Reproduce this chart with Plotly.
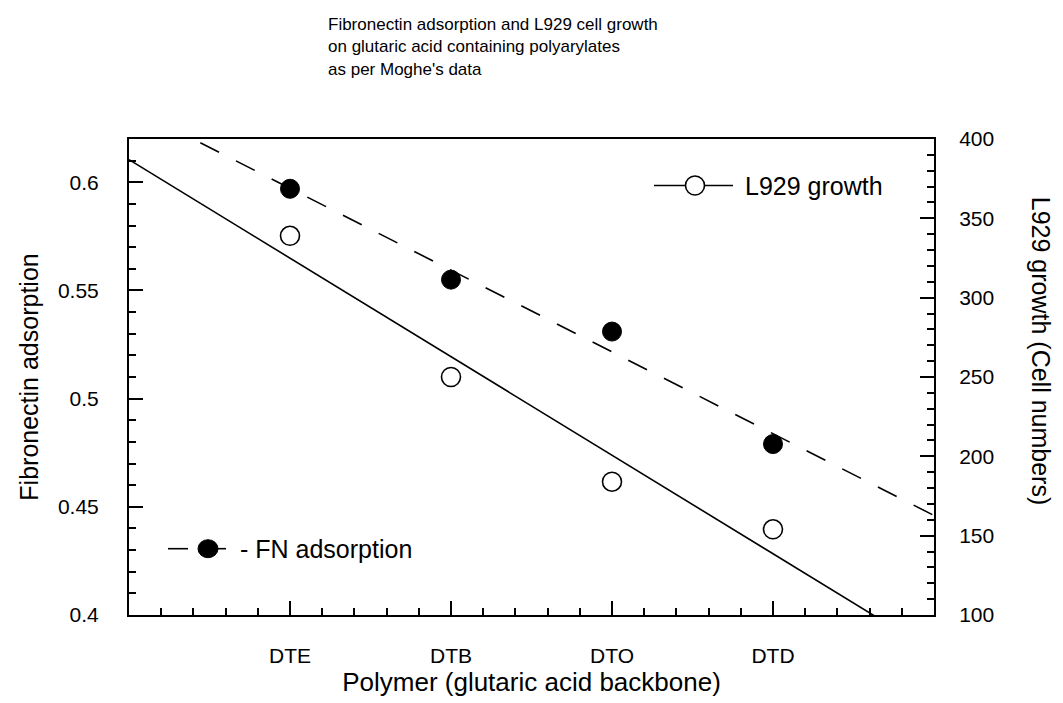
import numpy as np
import plotly.graph_objects as go

# ---------------- data ----------------
categories = ["DTE", "DTB", "DTO", "DTD"]
positions = [1, 2, 3, 4]
fn_adsorption = [0.597, 0.555, 0.531, 0.479]      # left axis
l929_growth = [339, 250, 184, 154]                # right axis (cell numbers)
x_range = [0, 5]
left_range = [0.4, 0.62]
right_range = [100, 400]

title_lines = ["Fibronectin adsorption and L929 cell growth",
               "on glutaric acid containing polyarylates",
               "as per Moghe's data"]

# linear fits (as in original chart)
fn_coef = np.polyfit(positions, fn_adsorption, 1)
l929_coef = np.polyfit(positions, l929_growth, 1)
fit_x = np.linspace(x_range[0], x_range[1], 2)

W, H = 1063, 703
L, R, T, B = 129, 129, 139, 83
PW, PH = W - L - R, H - T - B


def px(x):
    return (x - L) / PW


def py(y):
    return (H - B - y) / PH


FONT = "Arial, Liberation Sans, Helvetica, sans-serif"
BLACK = "#000000"

fig = go.Figure()
fig.add_trace(go.Scatter(x=fit_x, y=np.polyval(fn_coef, fit_x), mode="lines",
                         line=dict(color=BLACK, width=1.6, dash="21px,19px"),
                         showlegend=False, hoverinfo="skip"))
fig.add_trace(go.Scatter(x=fit_x, y=np.polyval(l929_coef, fit_x), mode="lines",
                         line=dict(color=BLACK, width=1.6), yaxis="y2",
                         showlegend=False, hoverinfo="skip"))
fig.add_trace(go.Scatter(x=positions, y=fn_adsorption, mode="markers", name="FN adsorption",
                         marker=dict(symbol="circle", size=19, color=BLACK,
                                     line=dict(color=BLACK, width=1)),
                         showlegend=False))
fig.add_trace(go.Scatter(x=positions, y=l929_growth, mode="markers", name="L929 growth",
                         marker=dict(symbol="circle", size=19, color="white",
                                     line=dict(color=BLACK, width=1.6)),
                         yaxis="y2", showlegend=False))

axis_common = dict(showgrid=False, zeroline=False, showline=True, linecolor=BLACK,
                   linewidth=2, ticks="inside", tickwidth=1.6, tickcolor=BLACK,
                   ticklen=14, tickfont=dict(family=FONT, size=21, color=BLACK))

fig.update_layout(
    width=W, height=H,
    margin=dict(l=L, r=R, t=T, b=B),
    paper_bgcolor="white", plot_bgcolor="white",
    font=dict(family=FONT, color=BLACK),
    showlegend=False,
    xaxis=dict(**axis_common, range=x_range, tickmode="array", tickvals=positions,
               ticktext=categories, mirror=True, ticklabelstandoff=21,
               minor=dict(tickmode="linear", tick0=0, dtick=0.2, ticks="inside",
                          ticklen=7, tickwidth=1.6, tickcolor=BLACK),
               title=dict(text="Polymer (glutaric acid backbone)",
                          font=dict(family=FONT, size=26, color=BLACK), standoff=6)),
    yaxis=dict(**axis_common, range=left_range, tickmode="linear", tick0=0.4, dtick=0.05,
               ticklabelstandoff=24,
               minor=dict(tickmode="linear", tick0=0.4, dtick=0.01, ticks="inside",
                          ticklen=7, tickwidth=1.6, tickcolor=BLACK),
               title=dict(text="Fibronectin adsorption",
                          font=dict(family=FONT, size=25, color=BLACK), standoff=12)),
    yaxis2=dict(**axis_common, range=right_range, overlaying="y", side="right",
                tickmode="linear", tick0=100, dtick=50, ticklabelstandoff=19,
                minor=dict(tickmode="linear", tick0=100, dtick=10, ticks="inside",
                           ticklen=7, tickwidth=1.6, tickcolor=BLACK)),
)

annotations = []
for i, line in enumerate(title_lines):
    annotations.append(dict(text=line, xref="paper", yref="paper",
                            x=px(326), y=py(23 + 23 * i), xanchor="left", yanchor="middle",
                            align="left", showarrow=False,
                            font=dict(family=FONT, size=17, color=BLACK)))
annotations += [
    dict(text="L929 growth (Cell numbers)", xref="paper", yref="paper",
         x=px(1041), y=py(353), xanchor="center", yanchor="middle", textangle=90,
         showarrow=False, font=dict(family=FONT, size=25, color=BLACK)),
    dict(text="L929 growth", xref="paper", yref="paper", x=px(743), y=py(186),
         xanchor="left", yanchor="middle", showarrow=False,
         font=dict(family=FONT, size=25, color=BLACK)),
    dict(text="- FN adsorption", xref="paper", yref="paper", x=px(238), y=py(553),
         xanchor="left", yanchor="middle", showarrow=False,
         font=dict(family=FONT, size=25, color=BLACK)),
]
fig.update_layout(annotations=annotations)

shapes = [
    dict(type="line", xref="paper", yref="paper", x0=px(654), x1=px(733), y0=py(186), y1=py(186),
         line=dict(color=BLACK, width=1.6)),
    dict(type="circle", xref="paper", yref="paper", xsizemode="pixel", ysizemode="pixel",
         xanchor=px(695), yanchor=py(186), x0=-9.5, x1=9.5, y0=-9.5, y1=9.5,
         fillcolor="white", line=dict(color=BLACK, width=1.6)),
    dict(type="line", xref="paper", yref="paper", x0=px(168), x1=px(188), y0=py(553), y1=py(553),
         line=dict(color=BLACK, width=1.6)),
    dict(type="line", xref="paper", yref="paper", x0=px(216), x1=px(226), y0=py(553), y1=py(553),
         line=dict(color=BLACK, width=1.6)),
    dict(type="circle", xref="paper", yref="paper", xsizemode="pixel", ysizemode="pixel",
         xanchor=px(208), yanchor=py(553), x0=-10, x1=10, y0=-9, y1=9,
         fillcolor=BLACK, line=dict(color=BLACK, width=1)),
]
fig.update_layout(shapes=shapes)

fig.write_html("out.html")
